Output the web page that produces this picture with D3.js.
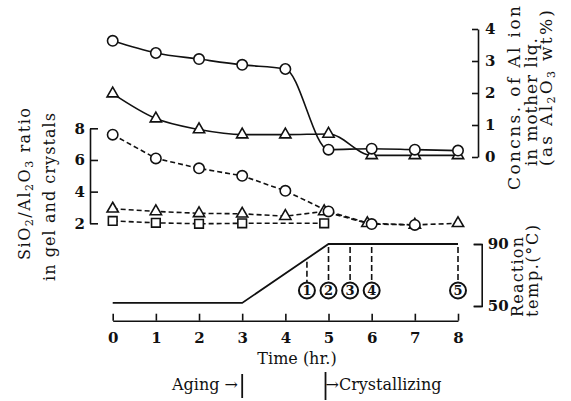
<!DOCTYPE html>
<html>
<head>
<meta charset="utf-8">
<script src="https://cdn.jsdelivr.net/npm/d3@7"></script>
<style>
  body { margin: 0; background: #fff; }
  text { font-family: "DejaVu Serif", serif; fill: #111; }
  .axis path, .axis line { stroke: #111; stroke-width: 1.6; }
  .axis text { font-size: 15px; font-family: "DejaVu Serif", serif; fill: #111; }
</style>
</head>
<body>
<svg id="viz" width="571" height="401"></svg>
<script>
// Al ion concentration in mother liquor (wt% Al2O3), solid lines
var concTimes = [0, 1, 2, 3, 4, 5, 6, 7, 8];
var concCircle = [3.63, 3.25, 3.06, 2.88, 2.75, 0.23, 0.26, 0.23, 0.2];
var concTriangle = [1.98, 1.2, 0.86, 0.7, 0.7, 0.72, 0.05, 0.05, 0.05];

// SiO2/Al2O3 ratio in gel and crystals, dashed lines
var ratioCircleTimes = [0, 1, 2, 3, 4, 5, 6, 7];
var ratioCircle = [7.6, 6.1, 5.47, 5.0, 4.05, 2.75, 1.95, 1.9];
var ratioTriangleTimes = [0, 1, 2, 3, 4, 4.9, 5.9, 7, 8];
var ratioTriangle = [2.92, 2.75, 2.63, 2.6, 2.45, 2.75, 2.0, 1.9, 2.0];
var ratioSquareTimes = [0, 1, 2, 3, 4.9];
var ratioSquare = [2.15, 2.03, 1.97, 2.0, 2.0];

// reaction temperature profile
var tempTimes = [0, 3, 5, 8];
var tempValues = [52, 52, 90, 90];

// sampling points
var sampleTimes = [4.5, 5, 5.5, 6, 8];
var sampleLabels = ["1", "2", "3", "4", "5"];

var timeTicks = [0, 1, 2, 3, 4, 5, 6, 7, 8];
var ratioTicks = [2, 4, 6, 8];
var concTicks = [0, 1, 2, 3, 4];
var tempTicks = [50, 90];

var svg = d3.select("#viz");

var x = d3.scaleLinear().domain([0, 8]).range([112.7, 458]);
var yConc = d3.scaleLinear().domain([0, 4]).range([157, 29]);
var yRatio = d3.scaleLinear().domain([2, 8]).range([223.3, 128.3]);
var yTemp = d3.scaleLinear().domain([50, 90]).range([306, 244]);
var tempAt = d3.scaleLinear().domain(tempTimes).range(tempValues);
var fmt = d3.format("d");

// axes
svg.append("g").attr("class", "axis")
    .attr("transform", "translate(0,320.7)")
    .call(d3.axisBottom(x).tickValues(timeTicks).tickFormat(fmt)
        .tickSizeInner(-7).tickSizeOuter(0).tickPadding(12));

svg.append("g").attr("class", "axis")
    .attr("transform", "translate(90,0)")
    .call(d3.axisLeft(yRatio).tickValues(ratioTicks).tickFormat(fmt)
        .tickSizeInner(-8).tickSizeOuter(0).tickPadding(5));

svg.append("g").attr("class", "axis")
    .attr("transform", "translate(478,0)")
    .call(d3.axisRight(yConc).tickValues(concTicks).tickFormat(fmt)
        .tickSizeInner(-6).tickSizeOuter(0).tickPadding(7));

svg.append("g").attr("class", "axis")
    .attr("transform", "translate(481.7,0)")
    .call(d3.axisRight(yTemp).tickValues(tempTicks).tickFormat(fmt)
        .tickSizeInner(-8).tickSizeOuter(-8).tickPadding(6));

svg.selectAll(".axis .tick text").style("font-weight", "bold");

// line generators
var solidLine = (times, vals, ys) => d3.line()
    .x((d, i) => x(times[i]))
    .y(d => ys(d))
    .curve(d3.curveMonotoneX)(vals);
var dashLine = (times, vals, ys) => d3.line()
    .x((d, i) => x(times[i]))
    .y(d => ys(d))(vals);

var lines = svg.append("g").attr("fill", "none").attr("stroke", "#111").attr("stroke-width", 1.6);
lines.append("path").attr("d", solidLine(concTimes, concCircle, yConc));
lines.append("path").attr("d", solidLine(concTimes, concTriangle, yConc));
lines.append("path").attr("d", dashLine(ratioCircleTimes, ratioCircle, yRatio)).attr("stroke-dasharray", "5,3");
lines.append("path").attr("d", dashLine(ratioTriangleTimes, ratioTriangle, yRatio)).attr("stroke-dasharray", "5,3");
lines.append("path").attr("d", dashLine(ratioSquareTimes, ratioSquare, yRatio)).attr("stroke-dasharray", "5,3");

// markers
var drawMarkers = (times, vals, ys, type, size) => {
    svg.append("g").selectAll("path")
        .data(vals)
        .enter()
        .append("path")
        .attr("transform", (d, i) => `translate(${x(times[i])},${ys(d)})`)
        .attr("d", d3.symbol().type(type).size(size))
        .attr("fill", "#fff")
        .attr("stroke", "#111")
        .attr("stroke-width", 1.6);
};
drawMarkers(ratioSquareTimes, ratioSquare, yRatio, d3.symbolSquare, 75);
drawMarkers(ratioTriangleTimes, ratioTriangle, yRatio, d3.symbolTriangle, 55);
drawMarkers(ratioCircleTimes, ratioCircle, yRatio, d3.symbolCircle, 85);
drawMarkers(concTimes, concTriangle, yConc, d3.symbolTriangle, 55);
drawMarkers(concTimes, concCircle, yConc, d3.symbolCircle, 85);

// temperature profile
svg.append("path")
    .attr("d", d3.line().x((d, i) => x(tempTimes[i])).y(d => yTemp(d))(tempValues))
    .attr("fill", "none").attr("stroke", "#111").attr("stroke-width", 1.8);

var sampleY = yTemp(60);
var samples = svg.append("g").selectAll("g")
    .data(sampleTimes)
    .enter()
    .append("g");
samples.append("line")
    .attr("x1", d => x(d)).attr("x2", d => x(d))
    .attr("y1", d => yTemp(tempAt(d)) + 3)
    .attr("y2", sampleY - 8)
    .attr("stroke", "#111").attr("stroke-width", 1.6).attr("stroke-dasharray", "6,3");
samples.append("circle")
    .attr("cx", d => x(d)).attr("cy", sampleY).attr("r", 8)
    .attr("fill", "#fff").attr("stroke", "#111").attr("stroke-width", 2);
samples.append("text")
    .attr("x", d => x(d)).attr("y", sampleY).attr("dy", "0.36em")
    .attr("text-anchor", "middle")
    .style("font-size", "13px").style("font-weight", "bold")
    .text((d, i) => sampleLabels[i]);

// axis titles
svg.append("text").attr("x", 297).attr("y", 364).attr("text-anchor", "middle")
    .style("font-size", "16px").text("Time (hr.)");

var vtitle = (cx, cy, len, size, str) => {
    var t = svg.append("text")
        .attr("transform", `translate(${cx},${cy}) rotate(-90)`)
        .attr("text-anchor", "middle").attr("dy", "0.35em")
        .style("font-size", size + "px")
        .attr("textLength", len).attr("lengthAdjust", "spacing");
    str.forEach(s => {
        t.append("tspan")
            .attr("baseline-shift", s.sub ? "-25%" : null)
            .style("font-size", s.sub ? "11px" : null)
            .text(s.t);
    });
};
vtitle(24, 184, 152, 16, [{t: "SiO"}, {t: "2", sub: 1}, {t: "/Al"}, {t: "2", sub: 1}, {t: "O"}, {t: "3", sub: 1}, {t: " ratio"}]);
vtitle(49, 197, 168, 16, [{t: "in gel and crystals"}]);
vtitle(514, 98, 184, 17, [{t: "Concns. of Al ion"}]);
vtitle(531, 102, 128, 17, [{t: "in mother liq."}]);
vtitle(546, 88, 156, 17, [{t: "(as Al"}, {t: "2", sub: 1}, {t: "O"}, {t: "3", sub: 1}, {t: " wt%)"}]);
vtitle(517, 277, 80, 16, [{t: "Reaction"}]);
vtitle(532, 271, 92, 16, [{t: "temp.(°C)"}]);

// stage annotations
svg.append("text").attr("x", 238).attr("y", 390).attr("text-anchor", "end")
    .style("font-size", "16px").text("Aging \u2192");
svg.append("line").attr("x1", x(3)).attr("x2", x(3)).attr("y1", 374).attr("y2", 398)
    .attr("stroke", "#111").attr("stroke-width", 1.8);
svg.append("line").attr("x1", x(5) - 3).attr("x2", x(5) - 3).attr("y1", 372).attr("y2", 400)
    .attr("stroke", "#111").attr("stroke-width", 1.8);
svg.append("text").attr("x", x(5) - 3).attr("y", 390)
    .style("font-size", "16px").text("\u2192Crystallizing");
</script>
</body>
</html>
